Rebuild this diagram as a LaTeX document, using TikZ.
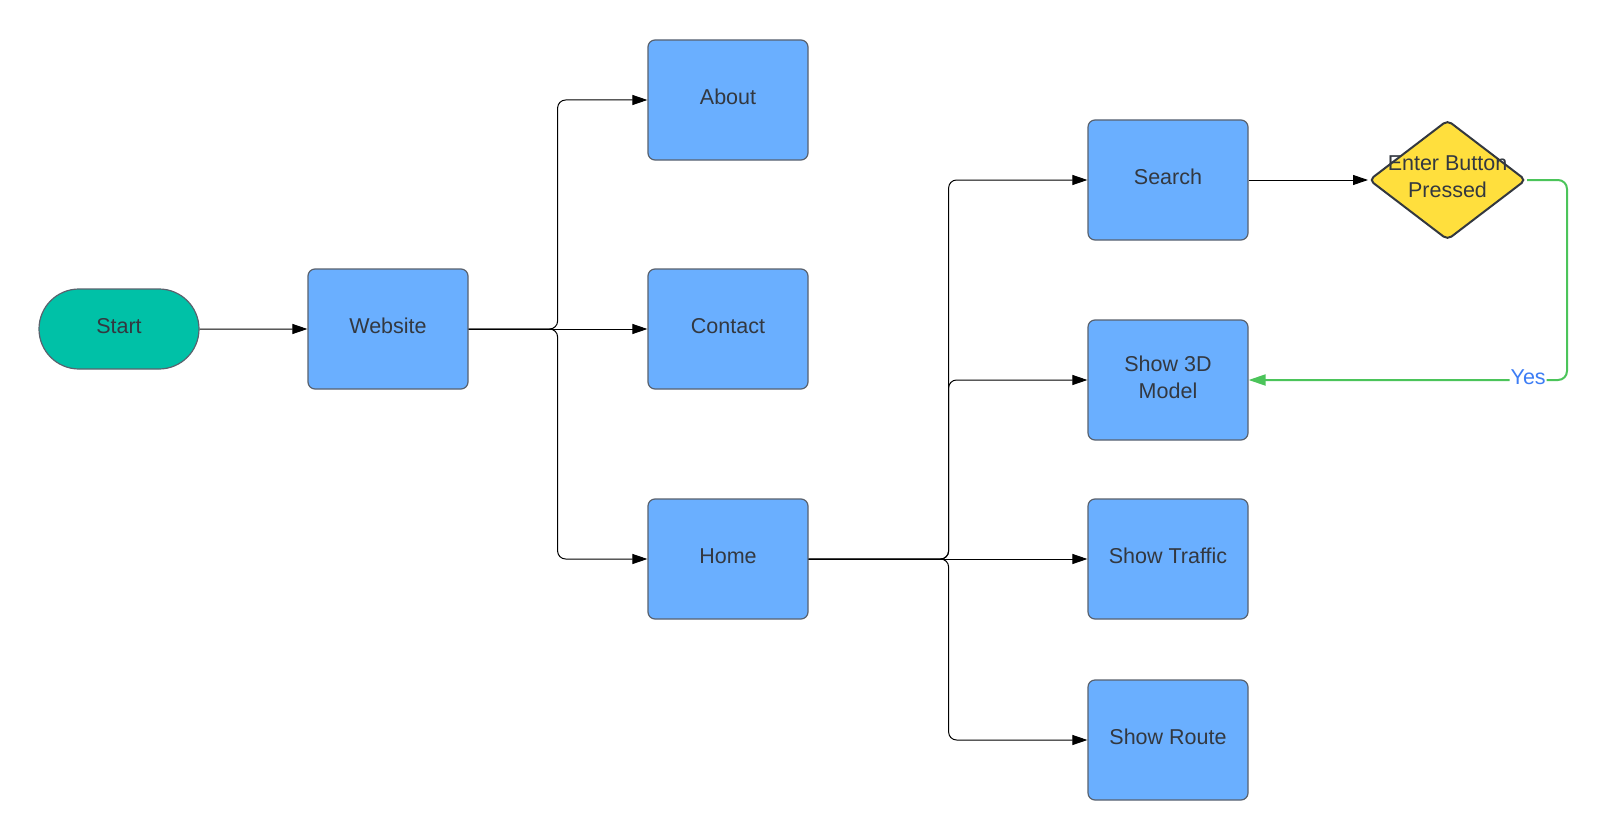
\documentclass[tikz,border=0pt]{standalone}
\usepackage{fontspec}
\setmainfont{Liberation Sans}
\usetikzlibrary{arrows.meta,shapes.misc,shapes.geometric}
\definecolor{boxblue}{RGB}{106,175,255}
\definecolor{teal}{RGB}{0,193,167}
\definecolor{decyellow}{RGB}{255,223,61}
\definecolor{edge}{RGB}{90,98,110}
\definecolor{txt}{RGB}{51,56,64}
\definecolor{yesgreen}{RGB}{75,196,90}
\definecolor{yesblue}{RGB}{61,125,245}
\tikzset{
  lbl/.style={font=\fontsize{21.5}{27}\selectfont, text=txt, align=center},
  boxnode/.style={lbl, rectangle, rounded corners=7pt, minimum width=160pt, minimum height=120pt,
    inner sep=0pt, text depth=6pt, fill=boxblue, draw=edge, line width=1.2pt},
  startnode/.style={lbl, rounded rectangle, minimum width=160pt, minimum height=80pt,
    inner sep=0pt, text depth=6pt, fill=teal, draw=edge, line width=1.2pt},
  decnode/.style={diamond, minimum width=157pt, minimum height=120pt, inner sep=0pt,
    fill=decyellow, draw=txt, line width=2pt, rounded corners=5pt},
  conn/.style={draw=black, line width=1pt, rounded corners=8pt,
    -{Triangle[length=15pt,width=10pt]}},
  yesconn/.style={draw=yesgreen, line width=2pt, rounded corners=9pt,
    -{Triangle[length=17pt,width=11pt]}},
  yeslbl/.style={font=\fontsize{21.5}{27}\selectfont, text=yesblue, fill=white, inner sep=1pt, text depth=6pt}
}
\begin{document}
\begin{tikzpicture}[x=1pt,y=-1pt]
\useasboundingbox[fill=white] (0,0) rectangle (1606,840);
\node[startnode] (start) at (119,329) {Start};
\node[boxnode] (web) at (388,329) {Website};
\node[boxnode] (about) at (728,100) {About};
\node[boxnode] (contact) at (728,329) {Contact};
\node[boxnode] (home) at (728,559) {Home};
\node[boxnode] (search) at (1168,180) {Search};
\node[boxnode] (model) at (1168,380) {Show 3D\\Model};
\node[boxnode] (traffic) at (1168,559) {Show Traffic};
\node[boxnode] (route) at (1168,740) {Show Route};
\node[decnode] (dec) at (1447.5,180) {};
\node[lbl, text depth=6pt] (dectext) at (dec) {Enter Button\\Pressed};

\draw[conn] (start) -- (web);
\draw[conn] (web.east) -- ++(89,0) |- (about.west);
\draw[conn] (web.east) -- (contact.west);
\draw[conn] (web.east) -- ++(89,0) |- (home.west);

\draw[conn] (home.east) -- ++(140,0) |- (search.west);
\draw[conn] (home.east) -- ++(140,0) |- (model.west);
\draw[conn] (home.east) -- (traffic.west);
\draw[conn] (home.east) -- ++(140,0) |- (route.west);

\draw[conn] (search.east) -- (dec.west);
\draw[yesconn] (dec.east) -- ++(40,0) |- (model.east) node[yeslbl, pos=0.561] (yes) {Yes};
\end{tikzpicture}
\end{document}
